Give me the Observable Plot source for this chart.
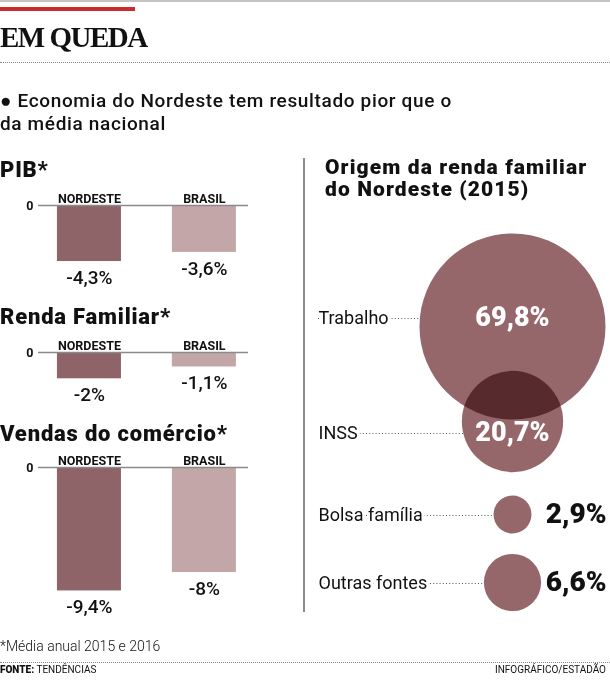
<!DOCTYPE html>
<html>
<head>
<meta charset="utf-8">
<script src="https://cdn.jsdelivr.net/npm/d3@7"></script>
<script src="https://cdn.jsdelivr.net/npm/@observablehq/plot@0.6"></script>
<style>
  html, body { margin: 0; padding: 0; background: #fff; }
  #page { position: relative; width: 610px; height: 686px; overflow: hidden; font-family: Roboto, "Open Sans", sans-serif; color: #111; }
  .abs { position: absolute; white-space: nowrap; }
  .hline-dot { position: absolute; left: 0; width: 610px; height: 0; border-top: 1px dotted #8a8a8a; }
  .ptitle { font-weight: 900; font-size: 22px; line-height: 1; left: 0; letter-spacing: 0.8px; }
  .plotbox { position: absolute; }
  .plotbox svg { overflow: visible; }
</style>
</head>
<body>
<div id="page">
  <div class="abs" style="left:0;top:0;width:610px;height:2px;background:#c4c4c4"></div>
  <div class="abs" style="left:0;top:7px;width:135px;height:4px;background:#cf2a2f"></div>
  <div class="abs" id="title" style="left:0;top:23px;font-family:'Liberation Serif',serif;font-weight:700;font-size:29px;line-height:1;letter-spacing:-1.5px"></div>
  <div class="hline-dot" style="top:62px"></div>
  <div class="abs" id="subtitle" style="left:0;top:89px;font-size:19px;font-weight:500;line-height:23px;letter-spacing:0.65px"></div>

  <div class="abs ptitle" id="t0" style="top:159px"></div>
  <div class="abs ptitle" id="t1" style="top:306px"></div>
  <div class="abs ptitle" id="t2" style="top:423px"></div>

  <div class="plotbox" id="c0" style="left:0;top:185px"></div>
  <div class="plotbox" id="c1" style="left:0;top:332px"></div>
  <div class="plotbox" id="c2" style="left:0;top:447px"></div>

  <div class="abs" style="left:303px;top:158px;width:1.5px;height:454px;background:#8c8c8c"></div>
  <div class="abs" id="rtitle" style="left:325px;top:156px;font-size:21px;font-weight:900;line-height:22px;letter-spacing:1.1px"></div>
  <div class="plotbox" id="bubbles" style="left:305px;top:210px"></div>

  <div class="abs" id="note" style="left:0;top:639px;font-size:14px;font-weight:300;line-height:1"></div>
  <div class="hline-dot" style="top:662px"></div>
  <div class="abs" id="source" style="left:0;top:665px;font-size:10px;line-height:1"></div>
  <div class="abs" id="credit" style="right:4px;top:665px;font-size:10px;line-height:1"></div>
</div>
<script>
// ---------- data ----------
const chartTitle = "EM QUEDA";
const subtitleLines = ["\u25CF Economia do Nordeste tem resultado pior que o", "da média nacional"];
const panelTitles = ["PIB*", "Renda Familiar*", "Vendas do comércio*"];
const barCats = ["NORDESTE", "BRASIL"];
const pibValues = [-4.3, -3.6];
const rendaValues = [-2, -1.1];
const vendasValues = [-9.4, -8];
const incomeTitle = ["Origem da renda familiar", "do Nordeste (2015)"];
const incomeSources = ["Trabalho", "INSS", "Bolsa família", "Outras fontes"];
const incomeShares = [69.8, 20.7, 2.9, 6.6];
const noteText = "*Média anual 2015 e 2016";
const sourceLabel = "FONTE:";
const sourceText = "TENDÊNCIAS";
const creditText = "INFOGRÁFICO/ESTADÃO";

// ---------- styles ----------
const barColors = ["#8f6468", "#c3a7a8"];
const bubbleColor = "#95676b";
const PX = 13.1; // pixels per percentage point

const fmt = v => String(v).replace(".", ",") + "%";

document.getElementById("title").textContent = chartTitle;
document.getElementById("subtitle").innerHTML = subtitleLines.join("<br>");
panelTitles.forEach((t, i) => document.getElementById("t" + i).textContent = t);
document.getElementById("rtitle").innerHTML = incomeTitle.join("<br>");
document.getElementById("note").textContent = noteText;
document.getElementById("source").innerHTML = "<b style='font-weight:900'>" + sourceLabel + "</b> " + sourceText;
document.getElementById("credit").textContent = creditText;

function barChart(values, D) {
  const data = barCats.map((c, i) => ({cat: c, v: values[i]}));
  const mt = 20;
  return Plot.plot({
    width: 260,
    height: Math.round(mt + D * PX),
    marginTop: mt, marginBottom: 0, marginLeft: 38, marginRight: 12,
    x: {domain: barCats, axis: "top", tickSize: 0, tickPadding: 3, label: null, paddingInner: 0.443, paddingOuter: 0.135, align: 0.61, round: false},
    y: {domain: [-D, 0], ticks: [0], tickFormat: d => String(d), tickSize: 0, tickPadding: 5, label: null},
    color: {domain: barCats, range: barColors},
    style: {fontFamily: "Roboto, sans-serif", fontSize: "12.5px", fontWeight: "bold", color: "#111", background: "transparent", overflow: "visible"},
    marks: [
      Plot.barY(data, {x: "cat", y: "v", fill: "cat"}),
      Plot.ruleY([0], {stroke: "#8a8a8a", strokeWidth: 1.5}),
      Plot.text(data, {x: "cat", y: "v", text: d => fmt(d.v), lineAnchor: "top", dy: 9, fontSize: 19, fontWeight: 500, fill: "#111"})
    ]
  });
}

document.getElementById("c0").appendChild(barChart(pibValues, 6.6));
document.getElementById("c1").appendChild(barChart(rendaValues, 3.8));
document.getElementById("c2").appendChild(barChart(vendasValues, 11.5));

// ---------- bubbles ----------
const rows = incomeSources.map((s, i) => ({name: s, v: incomeShares[i]}));
const circleDy = {"Trabalho": 8, "INSS": -12, "Bolsa família": -1, "Outras fontes": -1};
const bigOnes = rows.filter(d => d.v > 10);
const smallOnes = rows.filter(d => d.v <= 10);

const bubbles = Plot.plot({
  width: 305, height: 420,
  marginLeft: 13, marginRight: 98, marginTop: 0, marginBottom: 0,
  x: {axis: null},
  y: {type: "ordinal", domain: incomeSources, range: [108, 223, 305, 373], axis: null},
  r: {range: [0, 93]},
  style: {fontFamily: "Roboto, sans-serif", color: "#111", background: "transparent", overflow: "visible"},
  marks: [
    Plot.ruleY(rows, {y: "name", stroke: "#555", strokeWidth: 1, strokeDasharray: "1 2.2"}),
    Plot.text(rows, {y: "name", text: "name", frameAnchor: "left", textAnchor: "start", fontSize: 18, letterSpacing: 0.4, fill: "white", stroke: "white", strokeWidth: 6}),
    Plot.text(rows, {y: "name", text: "name", frameAnchor: "left", textAnchor: "start", fontSize: 18, letterSpacing: 0.4, fill: "#111"}),
    ...rows.map(d => Plot.dot([d], {y: "name", r: "v", frameAnchor: "right", fill: "white", dy: circleDy[d.name]})),
    ...rows.map(d => Plot.dot([d], {y: "name", r: "v", frameAnchor: "right", fill: bubbleColor, mixBlendMode: "multiply", dy: circleDy[d.name]})),
    Plot.text(bigOnes, {y: "name", text: d => fmt(d.v), frameAnchor: "right", textAnchor: "middle", fontSize: 27, letterSpacing: 0.8, fontWeight: 900, fill: "white", dy: -1}),
    Plot.text(smallOnes, {y: "name", text: d => fmt(d.v), frameAnchor: "right", textAnchor: "end", dx: 94, fontSize: 28, letterSpacing: 1.5, fontWeight: 900, fill: "#111", dy: -1})
  ]
});
document.getElementById("bubbles").appendChild(bubbles);
</script>
</body>
</html>
